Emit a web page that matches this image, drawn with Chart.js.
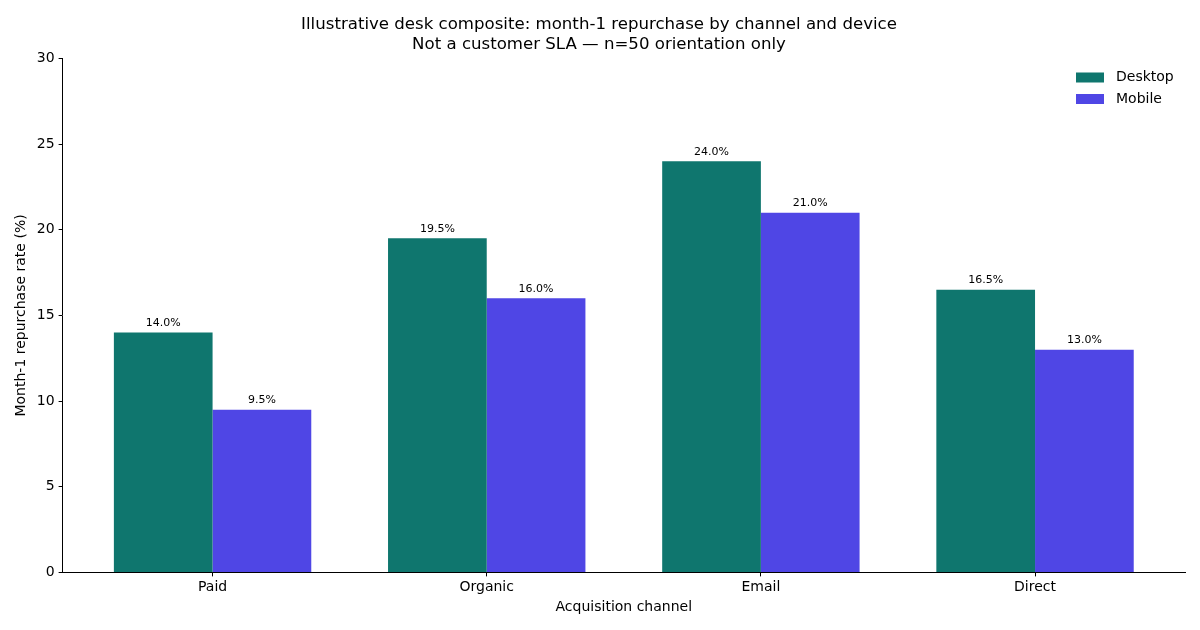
<!DOCTYPE html>
<html>
<head>
<meta charset="utf-8">
<script src="https://cdn.jsdelivr.net/npm/chart.js@4"></script>
<style>
html,body{margin:0;padding:0;background:#fff;}
#wrap{width:1200px;height:630px;}
</style>
</head>
<body>
<div id="wrap"><canvas id="c" width="1200" height="630"></canvas></div>
<script>
const categories = ["Paid", "Organic", "Email", "Direct"];
const desktopValues = [14.0, 19.5, 24.0, 16.5];
const mobileValues = [9.5, 16.0, 21.0, 13.0];
const seriesNames = ["Desktop", "Mobile"];
const yTicks = [0, 5, 10, 15, 20, 25, 30];
const titleLines = ["Illustrative desk composite: month-1 repurchase by channel and device", "Not a customer SLA \u2014 n=50 orientation only"];

const FONT = "'DejaVu Sans', sans-serif";
const colors = ["#0f766e", "#4f46e5"];

const valueLabels = {
  id: 'valueLabels',
  afterDatasetsDraw(chart) {
    const ctx = chart.ctx;
    ctx.save();
    ctx.font = "11px " + FONT;
    ctx.fillStyle = "#000";
    ctx.textAlign = "center";
    ctx.textBaseline = "bottom";
    chart.data.datasets.forEach((ds, di) => {
      const meta = chart.getDatasetMeta(di);
      meta.data.forEach((bar, i) => {
        ctx.fillText(ds.data[i].toFixed(1) + "%", bar.x, bar.y - 4);
      });
    });
    ctx.restore();
  }
};

const boxLegend = {
  id: 'boxLegend',
  afterDraw(chart) {
    const ctx = chart.ctx;
    const area = chart.chartArea;
    ctx.save();
    ctx.font = "14px " + FONT;
    ctx.textBaseline = "middle";
    ctx.textAlign = "left";
    chart.data.datasets.forEach((ds, i) => {
      const y = area.top + 19 + i * 21.5;
      ctx.fillStyle = ds.backgroundColor;
      ctx.fillRect(area.right - 109, y - 5, 28, 10);
      ctx.fillStyle = "#000";
      ctx.fillText(ds.label, area.right - 69, y);
    });
    ctx.restore();
  }
};

new Chart(document.getElementById('c'), {
  type: 'bar',
  data: {
    labels: categories,
    datasets: [
      { label: seriesNames[0], data: desktopValues, backgroundColor: colors[0], borderWidth: 0, categoryPercentage: 0.72, barPercentage: 1.0 },
      { label: seriesNames[1], data: mobileValues, backgroundColor: colors[1], borderWidth: 0, categoryPercentage: 0.72, barPercentage: 1.0 }
    ]
  },
  options: {
    responsive: false,
    animation: false,
    devicePixelRatio: 1,
    layout: { padding: { left: 13, right: 15, top: 0, bottom: 14 } },
    plugins: {
      legend: { display: false },
      tooltip: { enabled: false },
      title: {
        display: true,
        text: titleLines,
        color: "#000",
        font: { family: FONT, size: 16.6, weight: 'normal', lineHeight: 1.25 },
        padding: { top: 14, bottom: 3 }
      }
    },
    scales: {
      x: {
        type: 'category',
        offset: false,
        afterBuildTicks(scale) {
          scale._startValue = -0.547;
          scale._valueRange = 4.094;
        },
        grid: { display: true, drawOnChartArea: false, drawTicks: true, tickLength: 4, color: "#000", offset: false },
        border: { display: true, color: "#000", width: 1 },
        ticks: { color: "#000", font: { family: FONT, size: 14 }, padding: 3, maxRotation: 0 },
        title: { display: true, text: "Acquisition channel", color: "#000", font: { family: FONT, size: 14 }, padding: { top: 0, bottom: 0 } }
      },
      y: {
        min: 0, max: 30,
        afterBuildTicks(scale) { scale.ticks = yTicks.map(v => ({ value: v })); },
        grid: { display: true, drawOnChartArea: false, drawTicks: true, tickLength: 4, color: "#000" },
        border: { display: true, color: "#000", width: 1 },
        ticks: { color: "#000", font: { family: FONT, size: 14 }, padding: 4 },
        title: { display: true, text: "Month-1 repurchase rate (%)", color: "#000", font: { family: FONT, size: 14 }, padding: { top: 0, bottom: 3 } }
      }
    }
  },
  plugins: [valueLabels, boxLegend]
});
</script>
</body>
</html>
